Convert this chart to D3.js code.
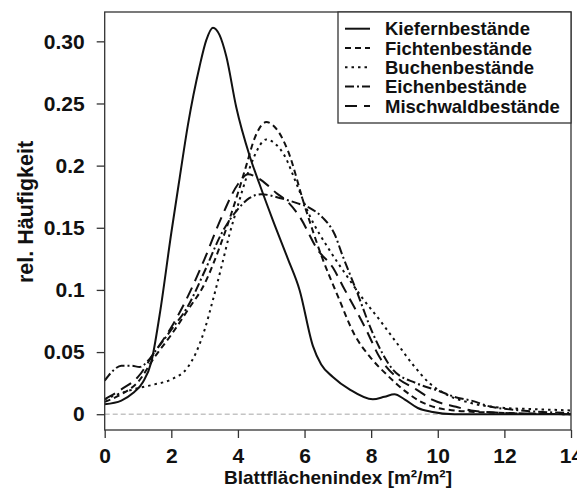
<!DOCTYPE html>
<html lang="de">
<head>
<meta charset="utf-8">
<title>Blattflächenindex</title>
<script src="https://d3js.org/d3.v7.min.js"></script>
<style>
  body { margin: 0; background: #fff; }
  svg text { font-family: "Liberation Sans", Arial, sans-serif; font-weight: bold; fill: #111; }
  .axis path { display: none; }
  .axis line { stroke: #333; stroke-width: 1.3px; }
  .curve { fill: none; stroke: #111; stroke-width: 2px; }
</style>
</head>
<body>
<div id="chart"></div>
<script>
  // axes
  var xTicks = [0, 2, 4, 6, 8, 10, 12, 14];
  var yTicks = [0, 0.05, 0.1, 0.15, 0.2, 0.25, 0.3];
  var yTickLabels = ["0", "0.05", "0.1", "0.15", "0.2", "0.25", "0.30"];

  var seriesNames = ["Kiefernbestände", "Fichtenbestände", "Buchenbestände", "Eichenbestände", "Mischwaldbestände"];

  // density curves, [LAI, rel. frequency]
  var kiefer = [[0, 0.008], [0.5, 0.011], [0.85, 0.017], [1.15, 0.026], [1.4, 0.042], [1.65, 0.08], [2, 0.146],
    [2.25, 0.19], [2.5, 0.233], [2.85, 0.28], [3.05, 0.301], [3.25, 0.311], [3.45, 0.305], [3.65, 0.288],
    [3.95, 0.247], [4.35, 0.208], [4.65, 0.185], [5.05, 0.156], [5.5, 0.125], [5.85, 0.1], [6.25, 0.055],
    [6.5, 0.04], [6.85, 0.03], [7.35, 0.02], [8.05, 0.012], [8.4, 0.014], [8.7, 0.016], [9, 0.012],
    [9.4, 0.005], [9.8, 0.002], [10.5, 0], [14, 0]];

  var fichte = [[0, 0.01], [0.5, 0.016], [1, 0.026], [1.5, 0.046], [2, 0.064], [2.5, 0.084], [3, 0.105],
    [3.5, 0.138], [4, 0.178], [4.25, 0.2], [4.5, 0.222], [4.85, 0.235], [5.2, 0.228], [5.5, 0.212],
    [6, 0.168], [6.5, 0.128], [7, 0.095], [7.5, 0.064], [8, 0.045], [8.5, 0.031], [9, 0.019], [9.5, 0.01],
    [10, 0.005], [10.5, 0.003], [11, 0.002], [12, 0.001], [14, 0]];

  var buche = [[0, 0.012], [0.5, 0.017], [1, 0.021], [1.5, 0.024], [2, 0.028], [2.5, 0.038], [2.75, 0.05],
    [3, 0.068], [3.25, 0.092], [3.5, 0.118], [3.75, 0.145], [4, 0.168], [4.25, 0.19], [4.5, 0.208],
    [4.85, 0.221], [5.1, 0.218], [5.4, 0.208], [5.75, 0.186], [6.15, 0.16], [6.75, 0.132], [7.25, 0.112],
    [7.75, 0.093], [8.25, 0.076], [8.75, 0.058], [9.25, 0.04], [9.75, 0.025], [10.25, 0.016], [11, 0.009],
    [12, 0.005], [13, 0.004], [14, 0.003]];

  var eiche = [[0, 0.027], [0.25, 0.035], [0.5, 0.039], [0.8, 0.039], [1.05, 0.038], [1.3, 0.043], [1.5, 0.05],
    [2, 0.068], [2.5, 0.087], [3, 0.115], [3.5, 0.145], [4, 0.165], [4.35, 0.174], [4.7, 0.177],
    [5.25, 0.174], [5.75, 0.17], [6.15, 0.166], [6.55, 0.158], [6.9, 0.145], [7.15, 0.127], [7.55, 0.1],
    [8.05, 0.065], [8.65, 0.036], [9.35, 0.025], [10, 0.019], [10.5, 0.014], [11, 0.011], [11.6, 0.006],
    [12.3, 0.0035], [13, 0.002], [14, 0.001]];

  var misch = [[0, 0.012], [0.5, 0.02], [1, 0.03], [1.5, 0.05], [2, 0.07], [2.5, 0.095], [3, 0.125],
    [3.5, 0.158], [4, 0.185], [4.3, 0.193], [4.6, 0.19], [4.9, 0.184], [5.15, 0.178], [5.45, 0.172],
    [5.85, 0.159], [6.4, 0.132], [6.85, 0.118], [7.15, 0.103], [7.85, 0.068], [8.25, 0.046], [8.75, 0.03],
    [9.35, 0.02], [9.85, 0.0115], [10.55, 0.006], [11, 0.003], [12, 0.001], [14, 0]];

  var dashes = ["none", "6,4", "2.5,4", "9,3,2,3", "12,7"];

  var width = 577,
      height = 491;

  var svg = d3.select("#chart")
      .append("svg")
      .attr("width", width)
      .attr("height", height);

  var x = d3.scaleLinear().domain([0, 14]).range([104.7, 571]);
  var y = d3.scaleLinear().domain([-0.0127, 0.3236]).range([430, 12]);

  // zero line
  svg.append("line")
    .attr("x1", x(0)).attr("x2", x(14))
    .attr("y1", y(0)).attr("y2", y(0))
    .attr("stroke", "#c4c4c4")
    .attr("stroke-width", 1.6)
    .attr("stroke-dasharray", "5,3");

  var line = d3.line()
    .x(function(d) { return x(d[0]); })
    .y(function(d) { return y(d[1]); })
    .curve(d3.curveMonotoneX);

  var series = [kiefer, fichte, buche, eiche, misch];

  svg.selectAll(".curve")
    .data(series)
  .enter().append("path")
    .attr("class", "curve")
    .attr("d", line)
    .attr("stroke-dasharray", function(d, i) { return dashes[i]; });

  // box
  svg.append("rect")
    .attr("x", x(0)).attr("y", y.range()[1])
    .attr("width", x(14) - x(0))
    .attr("height", y.range()[0] - y.range()[1])
    .attr("fill", "none")
    .attr("stroke", "#333")
    .attr("stroke-width", 1.3);

  svg.append("g")
    .attr("class", "axis")
    .attr("transform", "translate(" + x(0) + ",0)")
    .call(d3.axisLeft(y).tickValues(yTicks).tickSize(8).tickPadding(12)
      .tickFormat(function(d, i) { return yTickLabels[i]; }))
    .selectAll("text")
      .style("font-size", "21px")
      .style("font-family", null);

  svg.append("g")
    .attr("class", "axis")
    .attr("transform", "translate(0," + y.range()[0] + ")")
    .call(d3.axisBottom(x).tickValues(xTicks).tickSize(8).tickPadding(10).tickFormat(d3.format("d")))
    .selectAll("text")
      .style("font-size", "21px")
      .style("font-family", null);

  svg.append("text")
    .attr("x", 338)
    .attr("y", 484)
    .attr("text-anchor", "middle")
    .style("font-size", "19px")
    .text("Blattflächenindex [m²/m²]");

  svg.append("text")
    .attr("transform", "translate(33,212) rotate(-90)")
    .attr("text-anchor", "middle")
    .style("font-size", "21.5px")
    .text("rel. Häufigkeit");

  // legend
  var legend = svg.append("g");
  legend.append("rect")
    .attr("x", 338).attr("y", 12)
    .attr("width", 571 - 338).attr("height", 111)
    .attr("fill", "#fff")
    .attr("stroke", "#333")
    .attr("stroke-width", 1.3);

  var rows = legend.selectAll(".row")
    .data(seriesNames)
  .enter().append("g")
    .attr("transform", function(d, i) { return "translate(0," + (28.7 + i * 19.3) + ")"; });

  rows.append("line")
    .attr("x1", 345).attr("x2", 370)
    .attr("stroke", "#111")
    .attr("stroke-width", 2)
    .attr("stroke-dasharray", function(d, i) { return dashes[i]; });

  rows.append("text")
    .attr("x", 385)
    .attr("dy", "0.36em")
    .style("font-size", "18.5px")
    .text(function(d) { return d; });
</script>
</body>
</html>
